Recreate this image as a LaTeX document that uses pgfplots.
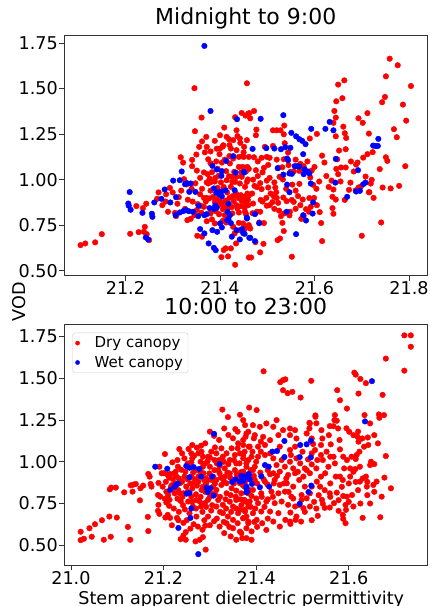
\documentclass[border=0pt]{standalone}
\usepackage{fontspec}
\setmainfont{DejaVu Sans}
\usepackage{pgfplots}
\pgfplotsset{compat=1.18}
\definecolor{dry}{rgb}{1,0,0}
\definecolor{wet}{rgb}{0,0,1}
\pgfplotsset{
  panel/.style={
    width=363.5bp, scale only axis,
    axis line style={black!80, line width=0.8bp},
    tick align=outside, tick pos=left,
    major tick length=5bp,
    every tick/.style={black!80, line width=0.8bp},
    ticklabel style={font=\fontsize{17.6bp}{21bp}\selectfont},
    /pgf/number format/assume math mode=true,
    yticklabel style={inner xsep=1bp, /pgf/number format/.cd, fixed, fixed zerofill, precision=2},
    xticklabel style={inner ysep=1bp, /pgf/number format/.cd, fixed, fixed zerofill, precision=1},
    ytick={0.5,0.75,1,1.25,1.5,1.75},
    title style={font=\fontsize{22bp}{26bp}\selectfont, at={(0.5,1)}, anchor=base, yshift=4.2bp},
  },
  drypl/.style={only marks, mark=*, mark size=2.8bp, color=dry},
  wetpl/.style={only marks, mark=*, mark size=2.8bp, color=wet},
}
\begin{document}
\begin{tikzpicture}
% ---------------- top panel
\begin{axis}[panel, at={(0bp,0bp)}, anchor=north west, height=240.7bp,
  xmin=21.070, xmax=21.839, ymin=0.473, ymax=1.794,
  xtick={21.2,21.4,21.6,21.8},
  title={Midnight to 9:00}]
\addplot[drypl] coordinates {
(21.105,0.641)(21.115,0.650)(21.136,0.656)(21.150,0.701)(21.210,0.703)(21.228,0.712)(21.241,0.741)(21.239,0.714)(21.245,0.701)(21.250,0.668)(21.223,0.855)(21.237,0.844)(21.244,0.868)(21.267,0.895)(21.285,0.880)(21.290,0.824)(21.305,0.818)(21.307,0.800)(21.310,0.868)(21.317,1.123)(21.322,1.094)(21.324,1.003)(21.329,0.974)(21.331,0.778)(21.313,0.904)(21.332,0.890)(21.346,1.502)(21.347,1.266)(21.350,1.138)(21.341,1.109)(21.341,1.074)(21.351,1.050)(21.361,1.341)(21.371,1.235)(21.372,1.180)(21.375,1.112)(21.374,1.030)(21.372,0.985)(21.370,0.880)(21.352,0.692)(21.362,0.687)(21.389,1.213)(21.380,1.155)(21.383,1.041)(21.389,0.990)(21.399,1.140)(21.406,1.182)(21.409,1.286)(21.403,0.575)(21.408,0.614)(21.417,0.579)(21.419,1.222)(21.432,1.343)(21.435,1.271)(21.437,1.239)(21.432,0.533)(21.443,1.202)(21.446,1.366)(21.454,1.352)(21.457,1.529)(21.460,1.363)(21.375,0.979)(21.382,0.988)(21.397,1.021)(21.371,0.900)(21.377,0.897)(21.389,0.878)(21.406,0.838)(21.366,0.851)(21.359,0.857)(21.353,0.866)(21.361,0.818)(21.338,0.785)(21.346,0.805)(21.351,0.833)(21.372,0.772)(21.383,0.782)(21.389,0.760)(21.406,0.774)(21.413,0.765)(21.428,0.741)(21.440,0.763)(21.449,0.760)(21.453,0.732)(21.461,0.751)(21.431,0.705)(21.434,0.650)(21.442,0.723)(21.461,0.573)(21.423,0.623)(21.412,0.623)(21.391,0.827)(21.415,0.869)(21.410,0.851)(21.429,0.882)(21.435,0.860)(21.446,0.884)(21.441,0.897)(21.454,0.870)(21.459,0.888)(21.458,0.924)(21.452,0.906)(21.434,0.924)(21.423,0.961)(21.426,0.988)(21.419,1.019)(21.425,1.016)(21.430,1.043)(21.440,1.070)(21.448,1.070)(21.458,1.070)(21.461,1.125)(21.448,1.129)(21.440,1.125)(21.428,1.116)(21.421,1.089)(21.432,0.988)(21.442,0.979)(21.453,0.961)(21.457,0.988)(21.446,1.016)(21.435,1.016)(21.414,0.997)(21.413,1.047)(21.404,1.094)(21.400,1.171)(21.407,1.189)(21.423,1.171)(21.435,1.162)(21.451,1.180)(21.457,1.217)(21.442,1.226)(21.428,1.217)(21.400,1.244)(21.414,1.235)
(21.385,0.905)(21.393,0.893)(21.401,0.880)(21.398,0.862)(21.392,0.870)(21.404,0.865)(21.412,0.885)(21.420,0.900)(21.427,0.910)(21.437,0.905)(21.444,0.915)(21.450,0.893)(21.418,0.845)(21.425,0.850)(21.437,0.842)(21.444,0.855)(21.452,0.845)(21.460,0.860)(21.398,0.810)(21.410,0.805)(21.426,0.815)(21.440,0.820)(21.455,0.812)(21.380,0.815)(21.366,0.900)(21.358,0.920)(21.362,0.950)(21.380,0.940)(21.395,0.955)(21.408,0.960)(21.415,0.930)(21.402,0.985)(21.390,1.010)(21.378,1.005)(21.366,1.040)(21.358,1.010)(21.395,1.060)(21.420,1.130)(21.410,1.110)(21.392,1.100)(21.380,1.090)(21.368,1.150)(21.356,1.180)(21.362,1.210)(21.393,1.170)(21.420,1.190)(21.450,1.150)(21.445,1.040)(21.455,1.045)(21.340,0.950)(21.348,0.980)(21.342,0.880)(21.326,0.840)(21.318,0.940)(21.300,0.930)(21.294,0.955)(21.286,0.920)(21.278,0.860)(21.270,0.930)
(21.470,1.000)(21.480,1.020)(21.490,1.040)(21.505,1.010)(21.515,0.985)(21.490,0.880)(21.505,0.860)(21.515,0.840)(21.525,0.830)(21.520,0.900)(21.540,0.950)(21.560,0.940)(21.565,0.910)(21.480,1.100)(21.505,1.120)(21.520,1.110)(21.545,1.080)(21.560,1.110)(21.585,1.100)(21.600,1.070)(21.560,0.840)(21.570,0.860)(21.605,0.860)(21.610,0.990)(21.625,1.020)(21.630,0.960)
(21.759,1.664)(21.776,1.628)(21.751,1.567)(21.804,1.514)(21.749,1.454)(21.743,1.425)(21.787,1.412)(21.794,1.324)(21.768,1.277)(21.774,1.233)(21.792,1.074)(21.751,1.123)(21.754,1.103)(21.738,1.058)(21.779,0.966)(21.761,0.952)(21.744,0.957)(21.741,0.765)(21.725,0.900)(21.716,0.931)(21.721,0.999)(21.719,0.979)(21.708,1.017)(21.723,1.151)(21.712,1.140)(21.703,1.121)(21.691,1.094)(21.688,1.083)(21.683,1.045)(21.677,1.100)(21.715,1.253)(21.712,1.365)(21.702,1.312)(21.693,1.337)(21.700,0.692)(21.663,1.545)(21.650,1.522)(21.659,1.447)(21.646,1.430)(21.642,1.377)(21.645,1.341)(21.640,1.312)(21.661,1.291)(21.664,1.255)(21.667,1.229)(21.645,1.238)(21.652,1.160)(21.666,1.167)(21.648,1.112)(21.646,1.059)(21.650,1.030)(21.656,1.067)(21.666,1.067)(21.636,0.995)(21.640,0.946)(21.638,0.906)(21.645,0.891)(21.638,0.844)(21.640,0.813)(21.664,0.889)(21.673,0.944)(21.693,0.957)(21.698,0.962)(21.687,0.941)(21.715,0.931)(21.655,0.990)(21.676,0.984)(21.616,1.132)(21.621,1.094)(21.605,1.251)(21.590,1.226)(21.614,0.762)(21.616,0.663)(21.611,0.822)(21.604,0.950)(21.594,1.050)(21.591,1.012)(21.597,0.972)(21.599,0.900)(21.589,0.899)(21.592,0.851)(21.588,0.824)(21.577,0.802)(21.582,0.838)(21.572,0.785)(21.575,0.891)(21.568,0.977)(21.568,1.048)(21.570,1.087)(21.577,1.074)(21.556,1.045)(21.549,1.043)(21.553,0.973)(21.552,0.889)(21.556,0.878)(21.541,0.882)(21.548,0.824)(21.536,0.815)(21.535,0.718)(21.552,0.577)(21.527,0.677)(21.522,0.668)(21.532,0.763)(21.529,0.800)(21.547,0.804)(21.523,0.873)(21.534,0.902)(21.514,0.908)(21.511,0.877)(21.519,0.931)(21.517,0.957)(21.526,1.016)(21.533,1.001)(21.524,1.065)(21.532,1.068)(21.535,1.112)(21.544,1.149)(21.537,1.200)(21.535,1.249)(21.528,1.271)(21.520,1.271)(21.512,1.271)(21.536,1.297)(21.512,1.185)(21.495,1.180)(21.499,1.125)(21.488,1.120)(21.502,1.081)(21.493,1.065)(21.499,0.995)(21.485,0.981)(21.502,0.957)(21.488,0.948)(21.478,0.959)(21.507,0.924)(21.498,0.900)(21.486,0.889)(21.499,0.857)(21.485,0.824)(21.478,0.824)(21.493,0.762)(21.483,0.765)(21.492,0.648)(21.485,0.601)(21.466,0.573)(21.475,0.657)(21.464,0.732)(21.454,0.741)(21.469,0.816)(21.453,0.824)(21.470,0.869)(21.454,0.891)(21.468,0.924)(21.461,0.913)(21.473,0.966)(21.459,1.001)(21.476,1.052)(21.461,1.059)(21.472,1.123)(21.450,1.125)(21.477,1.275)(21.476,1.244)(21.472,1.377)(21.462,1.365)(21.464,1.337)
};
\addplot[wetpl] coordinates {
(21.367,1.734)(21.380,1.377)(21.436,1.332)(21.209,0.932)(21.206,0.869)(21.207,0.857)(21.211,0.835)(21.236,0.818)(21.256,0.813)(21.257,0.796)(21.243,0.683)(21.248,0.672)(21.261,0.875)(21.276,0.895)(21.283,0.946)(21.295,0.875)(21.301,0.995)(21.315,0.997)(21.307,0.904)(21.319,1.045)(21.326,0.975)(21.330,0.981)(21.338,0.979)(21.335,0.933)(21.348,0.933)(21.306,0.805)(21.315,0.820)(21.322,0.827)(21.328,0.833)(21.334,0.827)(21.343,0.824)(21.354,0.800)(21.355,0.857)(21.367,0.805)(21.372,0.811)(21.378,0.844)(21.387,0.840)(21.390,0.858)(21.393,0.846)(21.358,0.729)(21.367,0.705)(21.376,0.650)(21.387,0.626)(21.391,0.613)(21.384,0.723)(21.394,0.714)(21.404,0.738)(21.400,0.760)(21.415,0.778)(21.392,0.928)(21.396,0.930)(21.399,0.919)(21.403,0.935)(21.384,1.076)(21.393,1.056)(21.403,1.021)(21.404,1.047)(21.413,1.103)(21.428,1.129)(21.433,1.039)(21.387,0.952)(21.404,0.908)(21.412,0.941)(21.418,0.868)(21.431,0.942)(21.416,0.824)(21.421,0.805)(21.418,0.783)(21.423,0.762)(21.425,0.687)(21.435,0.723)(21.442,0.672)(21.447,0.729)(21.451,1.039)(21.452,0.703)(21.457,0.791)(21.462,0.681)
(21.486,1.334)(21.534,1.354)(21.593,1.279)(21.623,1.279)(21.632,1.317)(21.640,1.271)(21.735,1.224)(21.724,1.187)(21.729,1.185)(21.734,1.185)(21.551,1.257)(21.561,1.238)(21.568,1.222)(21.574,1.213)(21.581,1.195)(21.549,1.175)(21.538,1.178)(21.529,1.167)(21.515,1.171)(21.498,1.173)(21.576,1.140)(21.542,1.116)(21.544,1.107)(21.522,1.063)(21.558,1.074)(21.563,1.074)(21.568,1.072)(21.534,1.028)(21.547,1.034)(21.552,1.032)(21.577,1.030)(21.579,1.056)(21.586,1.045)(21.589,1.034)(21.451,1.043)(21.469,1.169)(21.542,0.973)(21.592,0.979)(21.547,0.931)(21.597,0.875)(21.644,0.984)(21.645,1.114)(21.669,0.906)(21.692,1.052)(21.688,0.935)(21.696,0.939)(21.703,0.975)(21.708,0.984)(21.541,0.824)(21.596,0.814)(21.576,0.805)(21.582,0.776)(21.561,0.701)(21.457,0.787)(21.474,0.811)(21.483,0.761)(21.449,0.707)(21.464,0.681)(21.474,0.663)
};
\end{axis}
% ---------------- bottom panel
\begin{axis}[panel, at={(0bp,-289.5bp)}, anchor=north west, height=240.5bp,
  xmin=20.985, xmax=21.770, ymin=0.382, ymax=1.821,
  xtick={21.0,21.2,21.4,21.6},
  title={10:00 to 23:00},
  xlabel={Stem apparent dielectric permittivity},
  xlabel style={font=\fontsize{17.6bp}{21bp}\selectfont, at={(axis description cs:0.5,0)}, anchor=base, yshift=-39bp, xshift=-4.5bp},
  legend cell align=left,
  legend image post style={mark size=2.1bp, xshift=10bp},
  legend style={at={(0,1)}, anchor=north west, xshift=8.3bp, yshift=-8.2bp,
    draw=black!20, rounded corners=2.5bp, fill=white,
    font=\fontsize{15bp}{18bp}\selectfont, row sep=3bp,
    /tikz/every odd column/.append style={column sep=13bp}},
]
\addplot[drypl] coordinates {
(21.021,0.531)(21.028,0.539)(21.021,0.581)(21.040,0.602)(21.045,0.551)(21.052,0.626)(21.067,0.650)(21.071,0.533)(21.083,0.672)(21.086,0.551)(21.099,0.666)(21.084,0.835)(21.087,0.845)(21.097,0.845)(21.115,0.817)(21.129,0.859)(21.135,0.863)(21.140,0.867)(21.123,0.610)(21.128,0.533)(21.133,0.821)(21.149,0.769)(21.150,0.841)(21.156,0.857)(21.167,0.927)(21.170,0.911)(21.172,0.867)(21.174,0.851)(21.167,0.585)(21.166,0.670)(21.189,0.873)(21.188,0.801)(21.189,0.742)(21.188,0.706)(21.191,0.688)(21.203,1.046)(21.196,0.931)(21.201,0.931)(21.209,0.921)(21.214,0.927)(21.193,0.791)(21.203,0.778)(21.206,0.756)(21.212,0.736)(21.209,0.682)(21.214,0.664)(21.204,0.666)(21.223,0.931)(21.228,0.911)(21.220,0.897)(21.225,0.871)(21.235,0.811)(21.230,0.779)(21.237,0.765)(21.242,0.740)(21.237,0.537)(21.243,0.559)(21.248,0.579)(21.248,0.533)(21.243,0.634)(21.229,0.664)(21.234,1.076)(21.254,1.076)(21.272,1.084)(21.281,1.096)(21.311,1.086)(21.309,1.155)(21.327,1.312)(21.339,1.267)(21.355,1.195)(21.365,1.281)(21.331,1.199)(21.376,1.219)(21.377,1.149)(21.219,0.996)(21.231,0.970)(21.238,0.952)(21.260,0.996)(21.266,1.036)(21.285,1.030)(21.280,1.000)(21.295,1.002)(21.276,0.913)(21.286,0.931)(21.292,0.901)(21.307,0.911)(21.263,0.871)(21.272,0.857)(21.282,0.831)(21.285,0.851)(21.260,0.791)(21.271,0.771)(21.278,0.762)(21.289,0.752)(21.281,0.732)(21.263,0.732)(21.265,0.626)(21.274,0.612)(21.284,0.593)(21.290,0.617)(21.269,0.523)(21.278,0.533)(21.291,0.474)(21.285,0.549)(21.303,1.060)(21.314,1.050)(21.320,1.010)(21.328,1.030)(21.343,1.010)(21.354,1.040)(21.365,1.050)(21.375,1.060)(21.384,1.090)(21.300,0.970)(21.310,0.950)(21.321,0.976)(21.332,0.960)(21.343,0.930)(21.354,0.950)(21.367,0.938)(21.379,0.921)(21.314,0.891)(21.325,0.861)(21.336,0.871)(21.347,0.841)(21.357,0.827)(21.368,0.811)(21.375,0.851)(21.385,0.831)(21.318,0.771)(21.328,0.742)(21.343,0.761)(21.350,0.732)(21.365,0.712)(21.376,0.702)(21.383,0.732)(21.339,0.672)(21.350,0.652)(21.360,0.632)(21.372,0.662)(21.383,0.642)(21.321,0.612)(21.331,0.573)(21.345,0.553)(21.357,0.533)(21.370,0.543)(21.303,0.708)(21.296,0.672)(21.309,0.644)
(21.191,0.970)(21.198,0.851)(21.206,0.821)(21.216,0.851)(21.224,0.811)(21.213,0.772)(21.235,0.871)(21.245,0.911)(21.249,0.851)(21.243,0.811)(21.253,0.762)(21.256,0.692)(21.271,0.672)(21.296,0.772)(21.303,0.811)(21.307,0.851)(21.296,0.891)(21.285,0.970)(21.271,0.950)(21.260,0.911)(21.310,1.010)(21.296,1.030)(21.282,1.060)(21.260,1.050)(21.245,1.020)(21.321,0.931)(21.332,0.911)(21.350,0.891)(21.365,0.871)(21.375,0.771)(21.383,0.811)(21.357,0.771)(21.336,0.811)(21.314,0.831)(21.328,0.692)(21.314,0.732)(21.361,0.692)(21.379,0.672)(21.350,0.602)(21.336,0.632)(21.365,0.582)(21.379,0.602)(21.370,0.911)(21.357,0.990)(21.336,1.050)(21.347,1.080)(21.361,1.110)(21.372,1.130)(21.350,1.140)(21.383,1.179)(21.383,1.010)(21.379,0.970)
(21.205,0.880)(21.212,0.905)(21.218,0.860)(21.226,0.940)(21.233,0.900)(21.240,0.880)(21.247,0.940)(21.252,0.895)(21.258,0.870)(21.264,0.935)(21.268,0.895)(21.275,0.880)(21.279,0.945)(21.288,0.890)(21.292,0.870)(21.299,0.930)(21.305,0.890)(21.311,0.870)(21.318,0.950)(21.324,0.905)(21.330,0.885)(21.338,0.935)(21.344,0.905)(21.352,0.870)(21.358,0.925)(21.363,0.895)(21.371,0.860)(21.378,0.890)(21.388,0.950)(21.395,0.915)(21.402,0.870)(21.409,0.935)(21.416,0.895)(21.424,0.865)(21.430,0.925)(21.438,0.870)(21.445,0.915)
(21.210,0.800)(21.220,0.840)(21.232,0.830)(21.241,0.790)(21.252,0.820)(21.262,0.840)(21.270,0.805)(21.280,0.790)(21.290,0.820)(21.300,0.790)(21.311,0.805)(21.322,0.790)(21.334,0.775)(21.345,0.800)(21.356,0.790)(21.366,0.775)(21.378,0.760)(21.390,0.795)(21.400,0.780)(21.412,0.790)(21.425,0.775)(21.436,0.790)
(21.222,0.720)(21.233,0.700)(21.246,0.715)(21.262,0.760)(21.270,0.720)(21.284,0.700)(21.292,0.730)(21.305,0.740)(21.322,0.700)(21.335,0.720)(21.346,0.700)(21.357,0.720)(21.368,0.740)(21.388,0.730)(21.398,0.720)(21.418,0.730)(21.425,0.660)(21.402,0.610)(21.396,0.640)(21.342,0.610)(21.330,0.640)(21.315,0.660)(21.300,0.620)(21.288,0.650)(21.258,0.600)(21.250,0.650)(21.232,0.650)(21.218,0.620)
(21.230,1.010)(21.240,1.050)(21.252,0.990)(21.262,1.020)(21.275,1.050)(21.290,0.990)(21.300,1.025)(21.315,0.990)(21.330,1.000)(21.340,0.985)(21.352,1.010)(21.364,0.990)(21.372,1.020)(21.392,1.060)(21.400,1.000)(21.410,1.060)(21.425,0.950)(21.430,1.050)(21.410,1.120)(21.395,1.140)(21.360,1.080)(21.325,1.080)(21.290,1.110)(21.262,1.100)(21.320,1.130)(21.340,1.160)(21.360,1.180)(21.300,1.180)
(21.495,0.990)(21.505,0.960)(21.530,0.960)(21.540,1.040)(21.560,1.030)(21.570,0.990)(21.590,0.960)(21.600,0.870)(21.585,0.850)(21.560,0.870)(21.548,0.830)(21.535,0.800)(21.525,0.760)(21.560,0.790)(21.578,0.770)(21.620,0.830)(21.630,0.900)(21.610,0.940)(21.640,0.880)(21.600,0.760)(21.625,0.750)(21.640,0.800)(21.655,0.820)(21.505,0.700)(21.530,0.720)(21.520,0.650)(21.480,0.780)(21.470,0.820)(21.460,0.870)(21.465,0.900)(21.490,0.940)(21.475,1.040)(21.500,1.060)(21.540,1.100)(21.580,1.130)(21.595,1.200)(21.620,1.180)(21.530,1.230)
(21.720,1.756)(21.734,1.756)(21.734,1.688)(21.680,1.617)(21.720,1.545)(21.416,1.541)(21.612,1.533)(21.615,1.521)(21.625,1.495)(21.637,1.470)(21.452,1.476)(21.458,1.488)(21.463,1.493)(21.519,1.484)(21.458,1.428)(21.468,1.410)(21.478,1.418)(21.496,1.384)(21.575,1.428)(21.581,1.368)(21.621,1.408)(21.673,1.400)(21.596,1.318)(21.385,1.324)(21.401,1.309)(21.528,1.277)(21.528,1.269)(21.574,1.245)(21.567,1.213)(21.577,1.199)(21.515,1.233)(21.515,1.199)(21.634,1.279)(21.646,1.229)(21.665,1.283)(21.676,1.279)(21.666,1.263)(21.680,1.034)(21.671,0.791)(21.691,0.841)(21.677,0.905)(21.668,0.668)(21.630,0.664)(21.646,0.750)(21.593,0.632)(21.588,0.658)(21.601,1.179)(21.610,1.159)(21.619,1.149)(21.629,1.139)(21.641,1.145)(21.655,1.159)(21.663,1.110)(21.642,1.100)(21.633,1.090)(21.621,1.120)(21.623,1.060)(21.581,1.074)(21.567,1.030)(21.588,1.030)(21.596,1.010)(21.606,1.030)(21.617,1.040)(21.615,1.016)(21.603,0.960)(21.614,0.956)(21.624,0.970)(21.648,1.000)(21.655,0.986)(21.646,0.980)(21.572,0.911)(21.581,0.911)(21.587,0.891)(21.603,0.911)(21.615,0.879)(21.624,0.881)(21.637,0.911)(21.639,0.851)(21.653,0.861)(21.660,0.881)(21.559,0.811)(21.574,0.815)(21.588,0.795)(21.596,0.791)(21.607,0.801)(21.610,0.732)(21.593,0.742)(21.578,0.706)(21.594,0.712)(21.587,0.682)(21.533,0.676)(21.548,0.724)(21.559,0.726)(21.568,0.752)(21.544,0.748)(21.542,0.772)(21.538,0.851)(21.531,0.881)(21.540,0.911)(21.549,0.931)(21.556,0.970)(21.544,1.010)(21.532,1.010)(21.552,1.060)(21.561,1.104)(21.557,1.159)(21.543,1.139)(21.541,1.189)(21.559,1.213)(21.569,1.249)(21.570,1.279)(21.516,1.229)(21.509,1.169)(21.520,1.139)(21.523,1.106)(21.527,1.070)(21.520,1.050)(21.512,1.014)(21.520,0.984)(21.509,0.950)(21.516,0.931)(21.502,0.911)(21.493,0.891)(21.505,0.851)(21.516,0.811)(21.520,0.851)(21.498,0.801)(21.509,0.781)(21.498,0.772)(21.493,0.742)(21.516,0.732)(21.502,0.722)(21.487,0.672)(21.497,0.642)(21.474,0.696)(21.463,0.652)(21.473,0.642)(21.485,0.652)(21.474,0.628)(21.451,0.612)(21.437,0.642)(21.422,0.592)(21.413,0.632)(21.390,0.583)(21.390,0.533)(21.401,0.652)(21.393,0.692)
(21.372,1.249)(21.393,1.219)(21.408,1.209)(21.422,1.229)(21.437,1.209)(21.444,1.249)(21.458,1.189)(21.473,1.199)(21.484,1.189)(21.379,1.169)(21.397,1.159)(21.415,1.149)(21.430,1.129)(21.448,1.159)(21.473,1.159)(21.487,1.139)(21.372,1.100)(21.386,1.090)(21.404,1.090)(21.419,1.100)(21.451,1.090)(21.473,1.070)(21.484,1.090)(21.372,1.040)(21.390,1.030)(21.404,1.030)(21.419,1.040)(21.437,1.020)(21.455,1.010)(21.473,1.000)(21.487,1.020)(21.379,0.990)(21.397,0.970)(21.444,0.980)(21.462,0.970)(21.480,0.960)(21.372,0.941)(21.393,0.950)(21.437,0.931)(21.451,0.941)(21.469,0.921)(21.484,0.931)(21.375,0.871)(21.397,0.891)(21.419,0.881)(21.440,0.891)(21.451,0.861)(21.466,0.871)(21.480,0.851)(21.393,0.831)(21.411,0.811)(21.433,0.821)(21.448,0.811)(21.462,0.821)(21.476,0.791)(21.372,0.772)(21.386,0.762)(21.404,0.752)(21.422,0.762)(21.440,0.752)(21.455,0.762)(21.469,0.742)(21.484,0.732)(21.375,0.712)(21.411,0.702)(21.430,0.702)(21.448,0.692)(21.372,0.662)(21.383,0.632)(21.368,0.573)(21.379,0.543)
};
\addlegendentry{Dry canopy}
\addplot[wetpl] coordinates {
(21.309,1.167)(21.182,0.970)(21.208,0.958)(21.227,0.861)(21.231,0.869)(21.224,0.851)(21.214,0.831)(21.249,0.974)(21.256,0.964)(21.265,0.968)(21.277,0.957)(21.256,0.907)(21.281,0.911)(21.305,0.911)(21.250,0.809)(21.256,0.813)(21.293,0.845)(21.295,0.819)(21.301,0.841)(21.308,0.797)(21.260,0.720)(21.258,0.664)(21.232,0.604)(21.275,0.447)(21.321,0.986)(21.348,0.879)(21.355,0.895)(21.368,0.915)(21.372,0.885)(21.378,0.907)(21.384,0.921)(21.379,0.851)(21.380,0.823)
(21.650,1.482)(21.635,1.241)(21.461,1.124)(21.518,1.126)(21.495,1.100)(21.509,1.104)(21.435,1.060)(21.445,1.064)(21.461,1.028)(21.494,1.028)(21.518,1.026)(21.419,0.980)(21.427,0.970)(21.411,0.913)(21.408,0.847)(21.428,0.851)(21.519,0.857)(21.513,0.819)(21.494,0.748)(21.391,0.867)(21.379,0.841)(21.379,0.817)(21.384,0.927)(21.375,0.911)(21.386,0.895)(21.365,0.881)
};
\addlegendentry{Wet canopy}
\end{axis}
\node[rotate=90, font=\fontsize{17.6bp}{21bp}\selectfont] at (-45bp,-266.5bp) {VOD};
\pgfresetboundingbox
\path[use as bounding box] (-64bp,35bp) rectangle (366bp,-571bp);
\end{tikzpicture}
\end{document}
